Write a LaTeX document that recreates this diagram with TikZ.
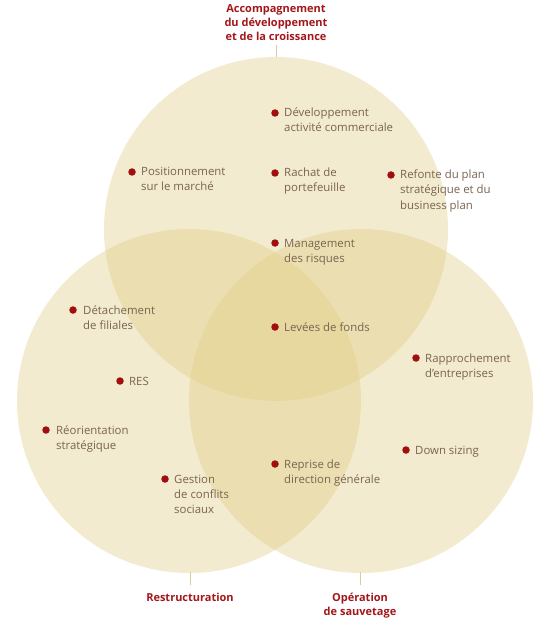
\documentclass[tikz,border=0pt]{standalone}
\usepackage{fontspec}
\setmainfont{Open Sans}
\definecolor{circfill}{RGB}{225,207,135}
\definecolor{itemtext}{RGB}{122,100,80}
\definecolor{dotred}{RGB}{160,14,14}
\definecolor{labred}{RGB}{163,23,27}
\definecolor{tickcol}{RGB}{217,203,160}
\begin{document}
\begin{tikzpicture}[x=1pt,y=-1pt,
  circ/.style={fill=circfill,fill opacity=0.4,draw=none},
  dotmark/.style={circle,fill=dotred,inner sep=0pt,minimum size=7.5pt},
  item/.style={anchor=base west,align=left,inner sep=0pt,text=itemtext,font=\fontsize{11.4}{15}\selectfont},
  lab/.style={align=center,inner sep=0pt,text=labred,font=\fontsize{11}{14}\selectfont\bfseries},
  tick/.style={draw=tickcol,line width=0.8pt}]
\useasboundingbox (0,0) rectangle (550,620);
\fill[white] (0,0) rectangle (550,620);
% circles
\path[circ] (276,229) circle (172);
\path[circ] (189,401) circle (172);
\path[circ] (361,401) circle (172);
% labels
\node[lab,anchor=base] (ltop) at (276,41) {Accompagnement\\du développement\\et de la croissance};
\coordinate (ctop) at (276,57);
\draw[tick] (276,45) -- (ctop);
\node[lab,anchor=base] (lleft) at (190,601) {Restructuration};
\coordinate (cleft) at (190,572);
\draw[tick] (cleft) -- (190,585);
\node[lab,anchor=base] (lright) at (360,615) {Opération\\de sauvetage};
\coordinate (cright) at (360,572);
\draw[tick] (cright) -- (360,585);
% items (base = baseline of last line)
\node[dotmark] (d1) at (275,113) {};
\node[item] (t1) at (284,132) {Développement\\activité commerciale};
\node[dotmark] (d2) at (275,173) {};
\node[item] (t2) at (284,192) {Rachat de\\portefeuille};
\node[dotmark] (d3) at (391,175) {};
\node[item] (t3) at (400,209) {Refonte du plan\\stratégique et du\\business plan};
\node[dotmark] (d4) at (132,172) {};
\node[item] (t4) at (141,191) {Positionnement\\sur le marché};
\node[dotmark] (d5) at (275,243) {};
\node[item] (t5) at (284,262) {Management\\des risques};
\node[dotmark] (d6) at (275,327) {};
\node[item] (t6) at (284,331) {Levées de fonds};
\node[dotmark] (d7) at (73,310) {};
\node[item] (t7) at (83,329) {Détachement\\de filiales};
\node[dotmark] (d8) at (120,381) {};
\node[item] (t8) at (129,385) {RES};
\node[dotmark] (d9) at (416,358) {};
\node[item] (t9) at (425,377) {Rapprochement\\d'entreprises};
\node[dotmark] (d10) at (46,430) {};
\node[item] (t10) at (56,449) {Réorientation\\stratégique};
\node[dotmark] (d11) at (406,450) {};
\node[item] (t11) at (415,454) {Down sizing};
\node[dotmark] (d12) at (275,464) {};
\node[item] (t12) at (284,483) {Reprise de\\direction générale};
\node[dotmark] (d13) at (165,479) {};
\node[item] (t13) at (174,513) {Gestion\\de conflits\\sociaux};
\end{tikzpicture}
\end{document}
